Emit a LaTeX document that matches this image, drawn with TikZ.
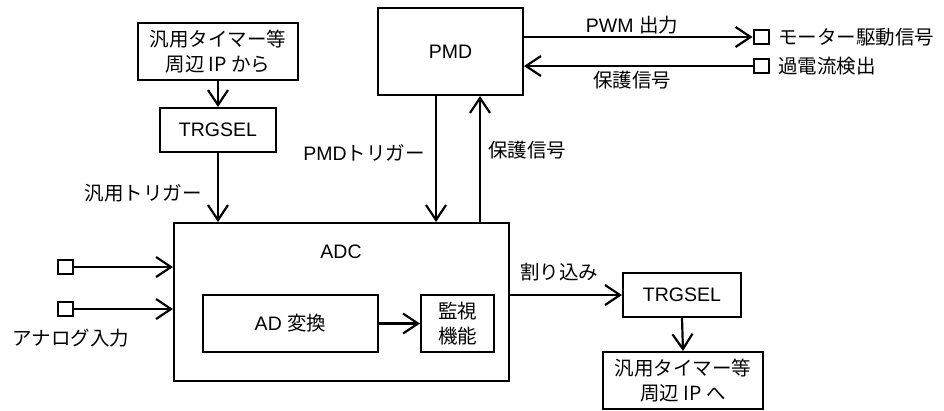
\documentclass[tikz,border=0pt]{standalone}
\usepackage{fontspec}
\setmainfont{Liberation Sans}
\newfontfamily\jp{Noto Sans CJK JP}[Scale=1.0]
\usetikzlibrary{arrows.meta}

\tikzset{
    box/.style={draw, line width=2bp, inner sep=0pt, align=center},
    pin/.style={draw, line width=2bp, inner sep=0pt, minimum width=15bp, minimum height=14bp},
    sig/.style={line width=2.2bp, -{Straight Barb[length=15bp,width=20bp]}},
    txt/.style={inner sep=0pt}
}

\begin{document}
\begin{tikzpicture}[x=1bp, y=-1bp, font=\fontsize{19.5bp}{25bp}\selectfont]
        \useasboundingbox (0,0) rectangle (944,410);

        % blocks
        \node[box, minimum width=160bp, minimum height=57bp] (src) at (218,51.5) {\jp 汎用タイマー等\\\jp 周辺 IP から};
        \node[box, minimum width=116bp, minimum height=44bp] (trgin) at (218,130) {TRGSEL};
        \node[box, minimum width=145bp, minimum height=87bp] (pmd) at (450.5,51.5) {PMD};
        \node[box, minimum width=335bp, minimum height=158bp] (adc) at (341.5,302) {};
        \node[txt] (adclbl) at (341,252) {ADC};
        \node[box, minimum width=175bp, minimum height=57bp] (conv) at (290.5,323.5) {AD {\jp 変換}};
        \node[box, minimum width=73bp, minimum height=57bp] (mon) at (457.5,323.5) {\jp 監視\\\jp 機能};
        \node[box, minimum width=118bp, minimum height=44bp] (trgout) at (682,295) {TRGSEL};
        \node[box, minimum width=160bp, minimum height=57bp] (dst) at (683,380.5) {\jp 汎用タイマー等\\\jp 周辺 IP へ};

        % pins
        \node[pin] (ain1) at (65.5,267) {};
        \node[pin] (ain2) at (65.5,309) {};
        \node[pin] (motor) at (761,37) {};
        \node[pin] (oc) at (761,66) {};

        % connectors
        \draw[sig] (src.south) -- (trgin.north);
        \draw[sig] (trgin.south) -- (trgin.south |- adc.north);
        \draw[sig] ([xshift=-14.5bp]pmd.south) -- ([xshift=-14.5bp]pmd.south |- adc.north); % PMD trigger
        \draw[sig] ([xshift=29.5bp]pmd.south |- adc.north) -- ([xshift=29.5bp]pmd.south); % protect
        \draw[sig] (pmd.east |- motor.west) -- (motor.west);
        \draw[sig] (oc.west) -- (pmd.east |- oc.west);
        \draw[sig] (ain1.east) -- (ain1 -| adc.west);
        \draw[sig] (ain2.east) -- (ain2 -| adc.west);
        \draw[sig] (conv.east) -- (mon.west);
        \draw[sig] (adc.east |- trgout.west) -- (trgout.west);
        \draw[sig] (trgout.south) -- (dst.north);

        % labels
        \node[txt, anchor=east] (gtrig) at (202,193) {\jp 汎用トリガー};
        \node[txt, anchor=east] (ptrig) at (425,153) {PMD{\jp トリガー}};
        \node[txt, anchor=west] (prot1) at (488,150) {\jp 保護信号};
        \node[txt] (pwm) at (632,25) {PWM {\jp 出力}};
        \node[txt] (prot2) at (632,80) {\jp 保護信号};
        \node[txt, anchor=west] (motortxt) at (778,37) {\jp モーター駆動信号};
        \node[txt, anchor=west] (octxt) at (778,66) {\jp 過電流検出};
        \node[txt] (irq) at (559,272) {\jp 割り込み};
        \node[txt] (anlg) at (71,338) {\jp アナログ入力};
    \end{tikzpicture}
\end{document}
